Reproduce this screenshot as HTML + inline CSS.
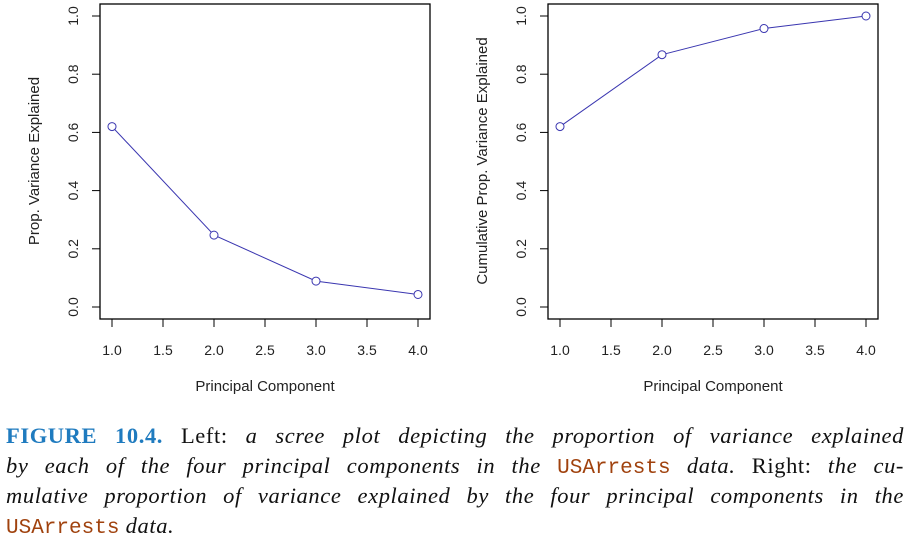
<!DOCTYPE html>
<html><head><meta charset="utf-8"><style>
body{margin:0;background:#fff;width:914px;height:547px;overflow:hidden}
svg text{font-family:"Liberation Sans",sans-serif;fill:#222}
#cap{position:absolute;left:6px;top:421px;width:898px;font-family:"Liberation Serif",serif;font-size:22.5px;line-height:30px;color:#111;letter-spacing:0.6px}
#cap .l{text-align:justify;text-align-last:justify;white-space:nowrap;height:30px}
#cap .last{text-align:left;text-align-last:left}
#cap b{color:#1f7bbf;font-weight:bold}
#cap code{font-family:"Liberation Mono",monospace;color:#a0420e;font-size:21px;letter-spacing:0}
</style></head><body>
<svg id="s" width="914" height="420" style="position:absolute;left:0;top:0"></svg>
<div id="cap">
<div class="l"><b>FIGURE 10.4.</b> Left: <i>a scree plot depicting the proportion of variance explained</i></div>
<div class="l"><i>by each of the four principal components in the</i> <code>USArrests</code> <i>data.</i> Right: <i>the cu-</i></div>
<div class="l"><i>mulative proportion of variance explained by the four principal components in the</i></div>
<div class="l last"><code>USArrests</code> <i>data.</i></div>
</div>
<script>
const components=[1,2,3,4];
const propVar=[0.620,0.247,0.089,0.043];
const cumVar=[0.620,0.867,0.957,1.000];
const xTicks=["1.0","1.5","2.0","2.5","3.0","3.5","4.0"];
const yTicks=["0.0","0.2","0.4","0.6","0.8","1.0"];
const NS="http://www.w3.org/2000/svg";
const svg=document.getElementById('s');
function mk(t,a,p){const e=document.createElementNS(NS,t);for(const k in a)e.setAttribute(k,a[k]);(p||svg).appendChild(e);return e;}
function panel(off,vals,ytitle,name){
  const g=mk('g',{});
  
  
  const xs=v=>off+112+(v-1)*(306/3);
  const ys=v=>307-v*291;
  const box=mk('rect',{x:off+100,y:4,width:330,height:315,fill:'none',stroke:'#000','stroke-width':1.3},g);
  
  
  xTicks.forEach(t=>{const v=parseFloat(t),x=xs(v);
    mk('line',{x1:x,x2:x,y1:319,y2:327,stroke:'#000'},g);
    const tx=mk('text',{x:x,y:355,'text-anchor':'middle','font-size':14},g);tx.textContent=t;
    
    });
  yTicks.forEach(t=>{const v=parseFloat(t),y=ys(v);
    mk('line',{x1:off+92,x2:off+100,y1:y,y2:y,stroke:'#000'},g);
    const tx=mk('text',{x:0,y:0,'text-anchor':'middle','font-size':14,transform:`translate(${off+78},${y}) rotate(-90)`},g);tx.textContent=t;
    
    });
  const xt=mk('text',{x:off+265,y:391,'text-anchor':'middle','font-size':15},g);xt.textContent='Principal Component';
  
  
  const yt=mk('text',{x:0,y:0,'text-anchor':'middle','font-size':15,transform:`translate(${off+39},161) rotate(-90)`},g);yt.textContent=ytitle;
  
  
  const pts=components.map((c,i)=>xs(c)+','+ys(vals[i])).join(' ');
  const ln=mk('polyline',{points:pts,fill:'none',stroke:'#3a36b0','stroke-width':1},g);
  
  
  components.forEach((c,i)=>{const p=mk('circle',{cx:xs(c),cy:ys(vals[i]),r:4,fill:'#fff',stroke:'#3a36b0','stroke-width':1},g);
    
    });
}
panel(0,propVar,'Prop. Variance Explained','scree-plot');
panel(448,cumVar,'Cumulative Prop. Variance Explained','cumulative-plot');
</script>
</body></html>
